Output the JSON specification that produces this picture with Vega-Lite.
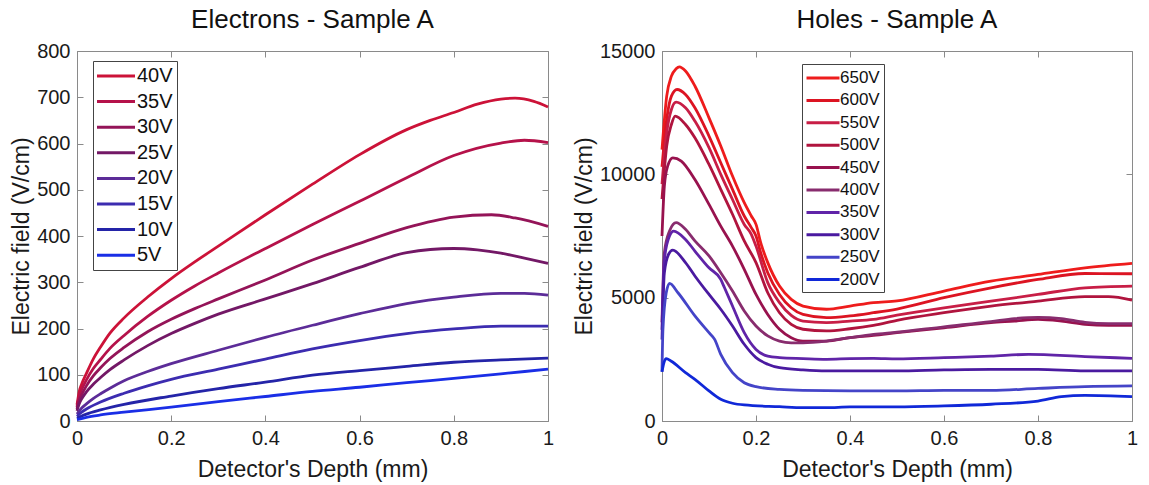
{
"$schema": "https://vega.github.io/schema/vega-lite/v6.json",
"background": "white",
"padding": {"left": 10, "top": 6, "right": 0, "bottom": 0},
"config": {
 "font": "Liberation Sans",
 "view": {"stroke": "#8a8a8a", "strokeWidth": 1},
 "axis": {"grid": false, "labelFont": "Liberation Sans", "labelFontSize": 20, "labelColor": "#1a1a1a", "titleFont": "Liberation Sans", "titleFontSize": 23, "titleFontWeight": "normal", "titleColor": "#1a1a1a", "domainColor": "#8a8a8a", "tickColor": "#8a8a8a", "tickSize": -6, "labelPadding": 13, "labelFlush": false, "labelOverlap": false, "minExtent": 0},
 "title": {"font": "Liberation Sans", "fontSize": 26, "fontWeight": "normal", "color": "#111111", "anchor": "middle", "frame": "group"},
 "legend": {"strokeColor": "#444444", "fillColor": "white", "padding": 4, "symbolType": "M-2,0H2", "symbolStrokeWidth": 3, "symbolFillColor": "transparent", "labelFont": "Liberation Sans", "labelColor": "#111111"},
 "concat": {"spacing": 17}
},
"resolve": {"scale": {"color": "independent"}, "legend": {"color": "independent"}},
"datasets": {
 "electrons": [
  {"depth":0,"field":35,"bias":"40V"},{"depth":0.005,"field":65,"bias":"40V"},{"depth":0.01,"field":80,"bias":"40V"},{"depth":0.02,"field":103,"bias":"40V"},{"depth":0.035,"field":135,"bias":"40V"},{"depth":0.05,"field":160,"bias":"40V"},{"depth":0.07,"field":190,"bias":"40V"},{"depth":0.1,"field":223,"bias":"40V"},{"depth":0.15,"field":268,"bias":"40V"},{"depth":0.2,"field":308,"bias":"40V"},{"depth":0.25,"field":344,"bias":"40V"},{"depth":0.3,"field":378,"bias":"40V"},{"depth":0.4,"field":446,"bias":"40V"},{"depth":0.5,"field":512,"bias":"40V"},{"depth":0.6,"field":576,"bias":"40V"},{"depth":0.7,"field":630,"bias":"40V"},{"depth":0.75,"field":650,"bias":"40V"},{"depth":0.8,"field":667,"bias":"40V"},{"depth":0.85,"field":685,"bias":"40V"},{"depth":0.9,"field":696,"bias":"40V"},{"depth":0.93,"field":698,"bias":"40V"},{"depth":0.97,"field":691,"bias":"40V"},{"depth":1,"field":679,"bias":"40V"},
  {"depth":0,"field":30,"bias":"35V"},{"depth":0.005,"field":55,"bias":"35V"},{"depth":0.01,"field":68,"bias":"35V"},{"depth":0.02,"field":89,"bias":"35V"},{"depth":0.035,"field":114,"bias":"35V"},{"depth":0.05,"field":133,"bias":"35V"},{"depth":0.07,"field":157,"bias":"35V"},{"depth":0.1,"field":185,"bias":"35V"},{"depth":0.15,"field":226,"bias":"35V"},{"depth":0.2,"field":261,"bias":"35V"},{"depth":0.25,"field":292,"bias":"35V"},{"depth":0.3,"field":320,"bias":"35V"},{"depth":0.4,"field":373,"bias":"35V"},{"depth":0.5,"field":425,"bias":"35V"},{"depth":0.6,"field":475,"bias":"35V"},{"depth":0.7,"field":526,"bias":"35V"},{"depth":0.8,"field":574,"bias":"35V"},{"depth":0.9,"field":601,"bias":"35V"},{"depth":0.95,"field":607,"bias":"35V"},{"depth":1,"field":602,"bias":"35V"},
  {"depth":0,"field":26,"bias":"30V"},{"depth":0.005,"field":45,"bias":"30V"},{"depth":0.01,"field":57,"bias":"30V"},{"depth":0.02,"field":76,"bias":"30V"},{"depth":0.035,"field":98,"bias":"30V"},{"depth":0.05,"field":115,"bias":"30V"},{"depth":0.07,"field":135,"bias":"30V"},{"depth":0.1,"field":159,"bias":"30V"},{"depth":0.15,"field":193,"bias":"30V"},{"depth":0.2,"field":220,"bias":"30V"},{"depth":0.25,"field":243,"bias":"30V"},{"depth":0.3,"field":264,"bias":"30V"},{"depth":0.4,"field":305,"bias":"30V"},{"depth":0.5,"field":348,"bias":"30V"},{"depth":0.6,"field":384,"bias":"30V"},{"depth":0.7,"field":418,"bias":"30V"},{"depth":0.8,"field":441,"bias":"30V"},{"depth":0.88,"field":446,"bias":"30V"},{"depth":0.93,"field":439,"bias":"30V"},{"depth":1,"field":421,"bias":"30V"},
  {"depth":0,"field":22,"bias":"25V"},{"depth":0.005,"field":38,"bias":"25V"},{"depth":0.01,"field":48,"bias":"25V"},{"depth":0.02,"field":63,"bias":"25V"},{"depth":0.035,"field":80,"bias":"25V"},{"depth":0.05,"field":94,"bias":"25V"},{"depth":0.07,"field":111,"bias":"25V"},{"depth":0.1,"field":132,"bias":"25V"},{"depth":0.15,"field":163,"bias":"25V"},{"depth":0.2,"field":189,"bias":"25V"},{"depth":0.25,"field":211,"bias":"25V"},{"depth":0.3,"field":231,"bias":"25V"},{"depth":0.4,"field":264,"bias":"25V"},{"depth":0.5,"field":297,"bias":"25V"},{"depth":0.6,"field":332,"bias":"25V"},{"depth":0.7,"field":364,"bias":"25V"},{"depth":0.8,"field":373,"bias":"25V"},{"depth":0.85,"field":370,"bias":"25V"},{"depth":0.9,"field":363,"bias":"25V"},{"depth":0.95,"field":352,"bias":"25V"},{"depth":1,"field":341,"bias":"25V"},
  {"depth":0,"field":15,"bias":"20V"},{"depth":0.01,"field":28,"bias":"20V"},{"depth":0.02,"field":37,"bias":"20V"},{"depth":0.035,"field":49,"bias":"20V"},{"depth":0.05,"field":59,"bias":"20V"},{"depth":0.07,"field":71,"bias":"20V"},{"depth":0.1,"field":87,"bias":"20V"},{"depth":0.15,"field":107,"bias":"20V"},{"depth":0.2,"field":124,"bias":"20V"},{"depth":0.3,"field":153,"bias":"20V"},{"depth":0.4,"field":181,"bias":"20V"},{"depth":0.5,"field":207,"bias":"20V"},{"depth":0.6,"field":232,"bias":"20V"},{"depth":0.7,"field":254,"bias":"20V"},{"depth":0.8,"field":268,"bias":"20V"},{"depth":0.9,"field":276,"bias":"20V"},{"depth":0.95,"field":276,"bias":"20V"},{"depth":1,"field":272,"bias":"20V"},
  {"depth":0,"field":10,"bias":"15V"},{"depth":0.01,"field":19,"bias":"15V"},{"depth":0.02,"field":26,"bias":"15V"},{"depth":0.05,"field":41,"bias":"15V"},{"depth":0.1,"field":60,"bias":"15V"},{"depth":0.15,"field":76,"bias":"15V"},{"depth":0.2,"field":90,"bias":"15V"},{"depth":0.3,"field":112,"bias":"15V"},{"depth":0.4,"field":134,"bias":"15V"},{"depth":0.5,"field":156,"bias":"15V"},{"depth":0.6,"field":174,"bias":"15V"},{"depth":0.7,"field":189,"bias":"15V"},{"depth":0.8,"field":199,"bias":"15V"},{"depth":0.9,"field":205,"bias":"15V"},{"depth":1,"field":205,"bias":"15V"},
  {"depth":0,"field":6,"bias":"10V"},{"depth":0.01,"field":11,"bias":"10V"},{"depth":0.02,"field":15,"bias":"10V"},{"depth":0.05,"field":24,"bias":"10V"},{"depth":0.1,"field":36,"bias":"10V"},{"depth":0.2,"field":54,"bias":"10V"},{"depth":0.3,"field":70,"bias":"10V"},{"depth":0.4,"field":84,"bias":"10V"},{"depth":0.5,"field":99,"bias":"10V"},{"depth":0.6,"field":109,"bias":"10V"},{"depth":0.7,"field":118,"bias":"10V"},{"depth":0.8,"field":127,"bias":"10V"},{"depth":0.9,"field":132,"bias":"10V"},{"depth":1,"field":136,"bias":"10V"},
  {"depth":0,"field":3,"bias":"5V"},{"depth":0.02,"field":8,"bias":"5V"},{"depth":0.05,"field":13,"bias":"5V"},{"depth":0.1,"field":19,"bias":"5V"},{"depth":0.2,"field":30,"bias":"5V"},{"depth":0.3,"field":42,"bias":"5V"},{"depth":0.4,"field":53,"bias":"5V"},{"depth":0.5,"field":64,"bias":"5V"},{"depth":0.6,"field":73,"bias":"5V"},{"depth":0.7,"field":83,"bias":"5V"},{"depth":0.8,"field":92,"bias":"5V"},{"depth":0.9,"field":102,"bias":"5V"},{"depth":1,"field":112,"bias":"5V"}
 ],
 "holes": [
  {"depth":0,"field":11000,"bias":"650V"},{"depth":0.01,"field":13170,"bias":"650V"},{"depth":0.02,"field":13980,"bias":"650V"},{"depth":0.03,"field":14280,"bias":"650V"},{"depth":0.037,"field":14360,"bias":"650V"},{"depth":0.05,"field":14190,"bias":"650V"},{"depth":0.07,"field":13580,"bias":"650V"},{"depth":0.1,"field":12290,"bias":"650V"},{"depth":0.125,"field":11150,"bias":"650V"},{"depth":0.15,"field":9930,"bias":"650V"},{"depth":0.175,"field":8850,"bias":"650V"},{"depth":0.19,"field":8310,"bias":"650V"},{"depth":0.2,"field":7970,"bias":"650V"},{"depth":0.21,"field":7230,"bias":"650V"},{"depth":0.225,"field":6420,"bias":"650V"},{"depth":0.25,"field":5470,"bias":"650V"},{"depth":0.275,"field":4930,"bias":"650V"},{"depth":0.3,"field":4660,"bias":"650V"},{"depth":0.35,"field":4530,"bias":"650V"},{"depth":0.4,"field":4660,"bias":"650V"},{"depth":0.45,"field":4800,"bias":"650V"},{"depth":0.5,"field":4870,"bias":"650V"},{"depth":0.6,"field":5270,"bias":"650V"},{"depth":0.7,"field":5670,"bias":"650V"},{"depth":0.8,"field":5940,"bias":"650V"},{"depth":0.9,"field":6210,"bias":"650V"},{"depth":1,"field":6390,"bias":"650V"},
  {"depth":0,"field":10300,"bias":"600V"},{"depth":0.01,"field":12230,"bias":"600V"},{"depth":0.02,"field":13170,"bias":"600V"},{"depth":0.032,"field":13440,"bias":"600V"},{"depth":0.05,"field":13240,"bias":"600V"},{"depth":0.07,"field":12700,"bias":"600V"},{"depth":0.1,"field":11550,"bias":"600V"},{"depth":0.125,"field":10470,"bias":"600V"},{"depth":0.15,"field":9390,"bias":"600V"},{"depth":0.175,"field":8310,"bias":"600V"},{"depth":0.19,"field":7840,"bias":"600V"},{"depth":0.2,"field":7500,"bias":"600V"},{"depth":0.21,"field":6820,"bias":"600V"},{"depth":0.225,"field":6010,"bias":"600V"},{"depth":0.25,"field":5130,"bias":"600V"},{"depth":0.275,"field":4590,"bias":"600V"},{"depth":0.3,"field":4320,"bias":"600V"},{"depth":0.35,"field":4190,"bias":"600V"},{"depth":0.4,"field":4260,"bias":"600V"},{"depth":0.45,"field":4390,"bias":"600V"},{"depth":0.5,"field":4540,"bias":"600V"},{"depth":0.6,"field":5000,"bias":"600V"},{"depth":0.7,"field":5400,"bias":"600V"},{"depth":0.8,"field":5740,"bias":"600V"},{"depth":0.9,"field":5980,"bias":"600V"},{"depth":1,"field":5970,"bias":"600V"},
  {"depth":0,"field":9600,"bias":"550V"},{"depth":0.01,"field":11690,"bias":"550V"},{"depth":0.02,"field":12630,"bias":"550V"},{"depth":0.03,"field":12930,"bias":"550V"},{"depth":0.05,"field":12700,"bias":"550V"},{"depth":0.07,"field":12160,"bias":"550V"},{"depth":0.1,"field":11080,"bias":"550V"},{"depth":0.125,"field":10000,"bias":"550V"},{"depth":0.15,"field":8980,"bias":"550V"},{"depth":0.175,"field":7970,"bias":"550V"},{"depth":0.19,"field":7570,"bias":"550V"},{"depth":0.2,"field":7090,"bias":"550V"},{"depth":0.225,"field":5610,"bias":"550V"},{"depth":0.25,"field":4800,"bias":"550V"},{"depth":0.275,"field":4280,"bias":"550V"},{"depth":0.3,"field":4050,"bias":"550V"},{"depth":0.35,"field":3990,"bias":"550V"},{"depth":0.4,"field":4050,"bias":"550V"},{"depth":0.45,"field":4120,"bias":"550V"},{"depth":0.5,"field":4290,"bias":"550V"},{"depth":0.6,"field":4590,"bias":"550V"},{"depth":0.7,"field":4860,"bias":"550V"},{"depth":0.8,"field":5130,"bias":"550V"},{"depth":0.9,"field":5400,"bias":"550V"},{"depth":1,"field":5470,"bias":"550V"},
  {"depth":0,"field":9000,"bias":"500V"},{"depth":0.01,"field":11150,"bias":"500V"},{"depth":0.02,"field":12020,"bias":"500V"},{"depth":0.028,"field":12360,"bias":"500V"},{"depth":0.05,"field":12020,"bias":"500V"},{"depth":0.07,"field":11480,"bias":"500V"},{"depth":0.1,"field":10400,"bias":"500V"},{"depth":0.125,"field":9390,"bias":"500V"},{"depth":0.15,"field":8380,"bias":"500V"},{"depth":0.175,"field":7300,"bias":"500V"},{"depth":0.2,"field":6420,"bias":"500V"},{"depth":0.225,"field":5200,"bias":"500V"},{"depth":0.25,"field":4390,"bias":"500V"},{"depth":0.275,"field":3920,"bias":"500V"},{"depth":0.3,"field":3720,"bias":"500V"},{"depth":0.35,"field":3650,"bias":"500V"},{"depth":0.4,"field":3740,"bias":"500V"},{"depth":0.45,"field":3880,"bias":"500V"},{"depth":0.5,"field":4080,"bias":"500V"},{"depth":0.6,"field":4390,"bias":"500V"},{"depth":0.7,"field":4660,"bias":"500V"},{"depth":0.8,"field":4860,"bias":"500V"},{"depth":0.9,"field":5040,"bias":"500V"},{"depth":0.95,"field":5040,"bias":"500V"},{"depth":1,"field":4900,"bias":"500V"},
  {"depth":0,"field":7500,"bias":"450V"},{"depth":0.005,"field":9520,"bias":"450V"},{"depth":0.012,"field":10330,"bias":"450V"},{"depth":0.023,"field":10670,"bias":"450V"},{"depth":0.041,"field":10540,"bias":"450V"},{"depth":0.07,"field":9790,"bias":"450V"},{"depth":0.1,"field":8780,"bias":"450V"},{"depth":0.125,"field":7900,"bias":"450V"},{"depth":0.15,"field":7090,"bias":"450V"},{"depth":0.175,"field":6150,"bias":"450V"},{"depth":0.2,"field":5130,"bias":"450V"},{"depth":0.225,"field":4320,"bias":"450V"},{"depth":0.25,"field":3720,"bias":"450V"},{"depth":0.275,"field":3380,"bias":"450V"},{"depth":0.3,"field":3240,"bias":"450V"},{"depth":0.35,"field":3240,"bias":"450V"},{"depth":0.4,"field":3380,"bias":"450V"},{"depth":0.45,"field":3470,"bias":"450V"},{"depth":0.5,"field":3580,"bias":"450V"},{"depth":0.6,"field":3780,"bias":"450V"},{"depth":0.7,"field":3990,"bias":"450V"},{"depth":0.75,"field":4050,"bias":"450V"},{"depth":0.8,"field":4120,"bias":"450V"},{"depth":0.85,"field":4050,"bias":"450V"},{"depth":0.9,"field":3920,"bias":"450V"},{"depth":0.95,"field":3880,"bias":"450V"},{"depth":1,"field":3880,"bias":"450V"},
  {"depth":0,"field":4000,"bias":"400V"},{"depth":0.005,"field":6820,"bias":"400V"},{"depth":0.016,"field":7700,"bias":"400V"},{"depth":0.03,"field":8040,"bias":"400V"},{"depth":0.05,"field":7770,"bias":"400V"},{"depth":0.07,"field":7300,"bias":"400V"},{"depth":0.1,"field":6690,"bias":"400V"},{"depth":0.125,"field":6010,"bias":"400V"},{"depth":0.15,"field":5270,"bias":"400V"},{"depth":0.175,"field":4460,"bias":"400V"},{"depth":0.2,"field":3850,"bias":"400V"},{"depth":0.225,"field":3450,"bias":"400V"},{"depth":0.25,"field":3240,"bias":"400V"},{"depth":0.275,"field":3170,"bias":"400V"},{"depth":0.3,"field":3170,"bias":"400V"},{"depth":0.35,"field":3240,"bias":"400V"},{"depth":0.4,"field":3380,"bias":"400V"},{"depth":0.45,"field":3510,"bias":"400V"},{"depth":0.5,"field":3600,"bias":"400V"},{"depth":0.6,"field":3820,"bias":"400V"},{"depth":0.7,"field":4030,"bias":"400V"},{"depth":0.75,"field":4150,"bias":"400V"},{"depth":0.8,"field":4200,"bias":"400V"},{"depth":0.85,"field":4150,"bias":"400V"},{"depth":0.9,"field":4000,"bias":"400V"},{"depth":0.95,"field":3950,"bias":"400V"},{"depth":1,"field":3950,"bias":"400V"},
  {"depth":0,"field":3700,"bias":"350V"},{"depth":0.005,"field":6550,"bias":"350V"},{"depth":0.016,"field":7500,"bias":"350V"},{"depth":0.025,"field":7700,"bias":"350V"},{"depth":0.05,"field":7360,"bias":"350V"},{"depth":0.07,"field":6890,"bias":"350V"},{"depth":0.1,"field":6210,"bias":"350V"},{"depth":0.125,"field":5740,"bias":"350V"},{"depth":0.133,"field":5400,"bias":"350V"},{"depth":0.15,"field":4660,"bias":"350V"},{"depth":0.175,"field":3580,"bias":"350V"},{"depth":0.2,"field":2900,"bias":"350V"},{"depth":0.225,"field":2630,"bias":"350V"},{"depth":0.25,"field":2570,"bias":"350V"},{"depth":0.3,"field":2530,"bias":"350V"},{"depth":0.35,"field":2500,"bias":"350V"},{"depth":0.4,"field":2530,"bias":"350V"},{"depth":0.45,"field":2540,"bias":"350V"},{"depth":0.5,"field":2520,"bias":"350V"},{"depth":0.6,"field":2570,"bias":"350V"},{"depth":0.7,"field":2630,"bias":"350V"},{"depth":0.78,"field":2700,"bias":"350V"},{"depth":0.9,"field":2610,"bias":"350V"},{"depth":1,"field":2540,"bias":"350V"},
  {"depth":0,"field":3300,"bias":"300V"},{"depth":0.005,"field":6010,"bias":"300V"},{"depth":0.014,"field":6760,"bias":"300V"},{"depth":0.023,"field":6930,"bias":"300V"},{"depth":0.05,"field":6420,"bias":"300V"},{"depth":0.07,"field":5880,"bias":"300V"},{"depth":0.1,"field":5130,"bias":"300V"},{"depth":0.125,"field":4530,"bias":"300V"},{"depth":0.15,"field":3850,"bias":"300V"},{"depth":0.175,"field":3110,"bias":"300V"},{"depth":0.2,"field":2570,"bias":"300V"},{"depth":0.225,"field":2300,"bias":"300V"},{"depth":0.25,"field":2160,"bias":"300V"},{"depth":0.3,"field":2070,"bias":"300V"},{"depth":0.35,"field":2030,"bias":"300V"},{"depth":0.4,"field":2030,"bias":"300V"},{"depth":0.5,"field":2030,"bias":"300V"},{"depth":0.6,"field":2070,"bias":"300V"},{"depth":0.7,"field":2090,"bias":"300V"},{"depth":0.8,"field":2090,"bias":"300V"},{"depth":0.9,"field":2030,"bias":"300V"},{"depth":1,"field":2030,"bias":"300V"},
  {"depth":0,"field":2000,"bias":"250V"},{"depth":0.002,"field":3720,"bias":"250V"},{"depth":0.009,"field":5200,"bias":"250V"},{"depth":0.016,"field":5580,"bias":"250V"},{"depth":0.034,"field":5200,"bias":"250V"},{"depth":0.07,"field":4260,"bias":"250V"},{"depth":0.1,"field":3580,"bias":"250V"},{"depth":0.112,"field":3310,"bias":"250V"},{"depth":0.125,"field":2700,"bias":"250V"},{"depth":0.15,"field":1960,"bias":"250V"},{"depth":0.175,"field":1550,"bias":"250V"},{"depth":0.2,"field":1390,"bias":"250V"},{"depth":0.25,"field":1280,"bias":"250V"},{"depth":0.3,"field":1240,"bias":"250V"},{"depth":0.4,"field":1220,"bias":"250V"},{"depth":0.5,"field":1220,"bias":"250V"},{"depth":0.6,"field":1240,"bias":"250V"},{"depth":0.7,"field":1240,"bias":"250V"},{"depth":0.8,"field":1320,"bias":"250V"},{"depth":0.9,"field":1390,"bias":"250V"},{"depth":1,"field":1420,"bias":"250V"},
  {"depth":0,"field":2000,"bias":"200V"},{"depth":0.004,"field":2360,"bias":"200V"},{"depth":0.009,"field":2530,"bias":"200V"},{"depth":0.019,"field":2430,"bias":"200V"},{"depth":0.05,"field":1960,"bias":"200V"},{"depth":0.07,"field":1690,"bias":"200V"},{"depth":0.1,"field":1220,"bias":"200V"},{"depth":0.125,"field":880,"bias":"200V"},{"depth":0.15,"field":720,"bias":"200V"},{"depth":0.175,"field":650,"bias":"200V"},{"depth":0.25,"field":580,"bias":"200V"},{"depth":0.3,"field":540,"bias":"200V"},{"depth":0.35,"field":540,"bias":"200V"},{"depth":0.4,"field":570,"bias":"200V"},{"depth":0.5,"field":570,"bias":"200V"},{"depth":0.6,"field":610,"bias":"200V"},{"depth":0.7,"field":680,"bias":"200V"},{"depth":0.8,"field":810,"bias":"200V"},{"depth":0.85,"field":990,"bias":"200V"},{"depth":0.9,"field":1040,"bias":"200V"},{"depth":1,"field":990,"bias":"200V"}
 ]
},
"hconcat": [
 {
  "width": 471, "height": 370,
  "title": {"text": "Electrons - Sample A", "offset": 8},
  "data": {"name": "electrons"},
  "layer": [
   {
    "mark": {"type": "line", "strokeWidth": 2.8, "interpolate": "monotone"},
    "encoding": {
     "x": {"field": "depth", "type": "quantitative", "scale": {"domain": [0, 1], "nice": false}, "axis": {"title": "Detector's Depth (mm)", "values": [0, 0.2, 0.4, 0.6, 0.8, 1], "format": "~g", "titlePadding": 10}},
     "y": {"field": "field", "type": "quantitative", "scale": {"domain": [0, 800], "nice": false}, "axis": {"title": "Electric field (V/cm)", "values": [0, 100, 200, 300, 400, 500, 600, 700, 800], "format": "d", "titlePadding": 3}},
     "color": {"field": "bias", "type": "nominal",
      "scale": {"domain": ["40V", "35V", "30V", "25V", "20V", "15V", "10V", "5V"], "range": ["#cc1238", "#b5124a", "#941458", "#731866", "#5c2c98", "#3c2cb0", "#2424a8", "#1a2ee6"]},
      "legend": {"orient": "none", "legendX": 16, "legendY": 10, "title": null, "labelFontSize": 20, "symbolSize": 361, "symbolOffset": 8, "labelOffset": 10, "rowPadding": 4.6}}
    }
   },
   {
    "mark": {"type": "line", "strokeOpacity": 0},
    "encoding": {
     "x": {"field": "depth", "type": "quantitative", "scale": {"domain": [0, 1], "nice": false}, "axis": {"orient": "top", "labels": false, "title": null, "domain": false, "values": [0, 0.2, 0.4, 0.6, 0.8, 1]}},
     "y": {"field": "field", "type": "quantitative", "scale": {"domain": [0, 800], "nice": false}, "axis": {"orient": "right", "labels": false, "title": null, "domain": false, "values": [0, 100, 200, 300, 400, 500, 600, 700, 800]}},
     "detail": {"field": "bias"}
    }
   }
  ],
  "resolve": {"scale": {"x": "independent", "y": "independent"}, "axis": {"x": "independent", "y": "independent"}}
 },
 {
  "width": 470, "height": 370,
  "title": {"text": "Holes - Sample A", "offset": 8},
  "data": {"name": "holes"},
  "layer": [
   {
    "mark": {"type": "line", "strokeWidth": 2.8, "interpolate": "monotone"},
    "encoding": {
     "x": {"field": "depth", "type": "quantitative", "scale": {"domain": [0, 1], "nice": false}, "axis": {"title": "Detector's Depth (mm)", "values": [0, 0.2, 0.4, 0.6, 0.8, 1], "format": "~g", "titlePadding": 10}},
     "y": {"field": "field", "type": "quantitative", "scale": {"domain": [0, 15000], "nice": false}, "axis": {"title": "Electric field (V/cm)", "values": [0, 5000, 10000, 15000], "format": "d", "titlePadding": 3}},
     "color": {"field": "bias", "type": "nominal",
      "scale": {"domain": ["650V", "600V", "550V", "500V", "450V", "400V", "350V", "300V", "250V", "200V"], "range": ["#ee1c1c", "#dc1422", "#c81e46", "#b0143e", "#98124e", "#882c6e", "#6024a8", "#4a1aa0", "#4444c8", "#1028d8"]},
      "legend": {"orient": "none", "legendX": 140, "legendY": 13, "title": null, "labelFontSize": 17, "symbolSize": 272, "symbolOffset": 7, "labelOffset": 7, "rowPadding": 4.4}}
    }
   },
   {
    "mark": {"type": "line", "strokeOpacity": 0},
    "encoding": {
     "x": {"field": "depth", "type": "quantitative", "scale": {"domain": [0, 1], "nice": false}, "axis": {"orient": "top", "labels": false, "title": null, "domain": false, "values": [0, 0.2, 0.4, 0.6, 0.8, 1]}},
     "y": {"field": "field", "type": "quantitative", "scale": {"domain": [0, 15000], "nice": false}, "axis": {"orient": "right", "labels": false, "title": null, "domain": false, "values": [0, 5000, 10000, 15000]}},
     "detail": {"field": "bias"}
    }
   }
  ],
  "resolve": {"scale": {"x": "independent", "y": "independent"}, "axis": {"x": "independent", "y": "independent"}}
 }
]
}
